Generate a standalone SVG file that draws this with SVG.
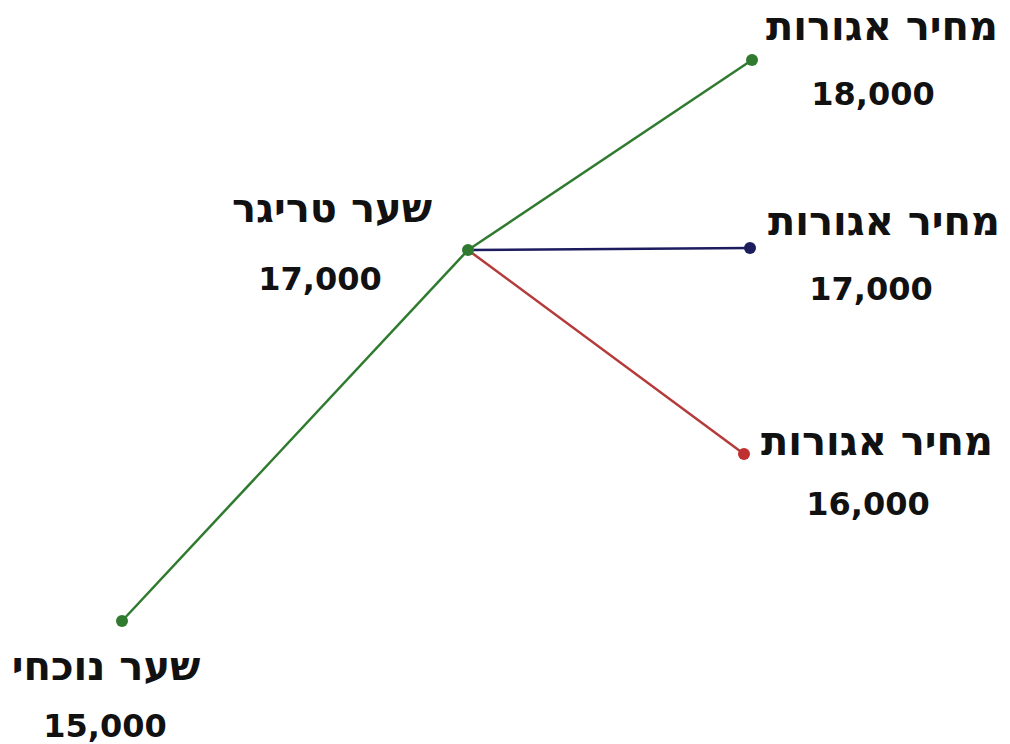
<svg xmlns="http://www.w3.org/2000/svg" width="1010" height="744" viewBox="0 0 1010 744">
<style>
.t{font-family:"DejaVu Sans","Liberation Sans",sans-serif;font-weight:bold;font-size:40px;fill:#111;text-anchor:middle}
.n{font-family:"DejaVu Sans","Liberation Sans",sans-serif;font-weight:bold;font-size:32px;fill:#111;text-anchor:middle}
.g{stroke:#2f7a2f;stroke-width:2.5;fill:none}
.b{stroke:#1c1c5e;stroke-width:2.5;fill:none}
.r{stroke:#b53a3a;stroke-width:2.5;fill:none}
</style>
<rect width="1010" height="744" fill="#fff"/>
<g id="connectors">
<line class="g" x1="122" y1="621" x2="468" y2="250"/>
<line class="g" x1="468" y1="250" x2="752" y2="60"/>
<line class="b" x1="468" y1="250" x2="750" y2="248"/>
<line class="r" x1="468" y1="250" x2="744" y2="454"/>
</g>
<g id="current">
<circle cx="122" cy="621" r="6" fill="#2f7a2f"/>
<text class="t" x="106" y="680" direction="rtl">שער נוכחי</text>
<text class="n" x="105" y="737">15,000</text>
</g>
<g id="trigger">
<circle cx="468" cy="250" r="6" fill="#2f7a2f"/>
<text class="t" x="332" y="222" direction="rtl">שער טריגר</text>
<text class="n" x="320" y="290">17,000</text>
</g>
<g id="p18">
<circle cx="752" cy="60" r="6" fill="#2f7a2f"/>
<text class="t" x="882" y="40" direction="rtl">מחיר אגורות</text>
<text class="n" x="873" y="105">18,000</text>
</g>
<g id="p17">
<circle cx="750" cy="248" r="6" fill="#1c1c5e"/>
<text class="t" x="884" y="235" direction="rtl">מחיר אגורות</text>
<text class="n" x="871" y="300">17,000</text>
</g>
<g id="p16">
<circle cx="744" cy="454" r="6" fill="#c03030"/>
<text class="t" x="877" y="455" direction="rtl">מחיר אגורות</text>
<text class="n" x="868" y="515">16,000</text>
</g>
</svg>
